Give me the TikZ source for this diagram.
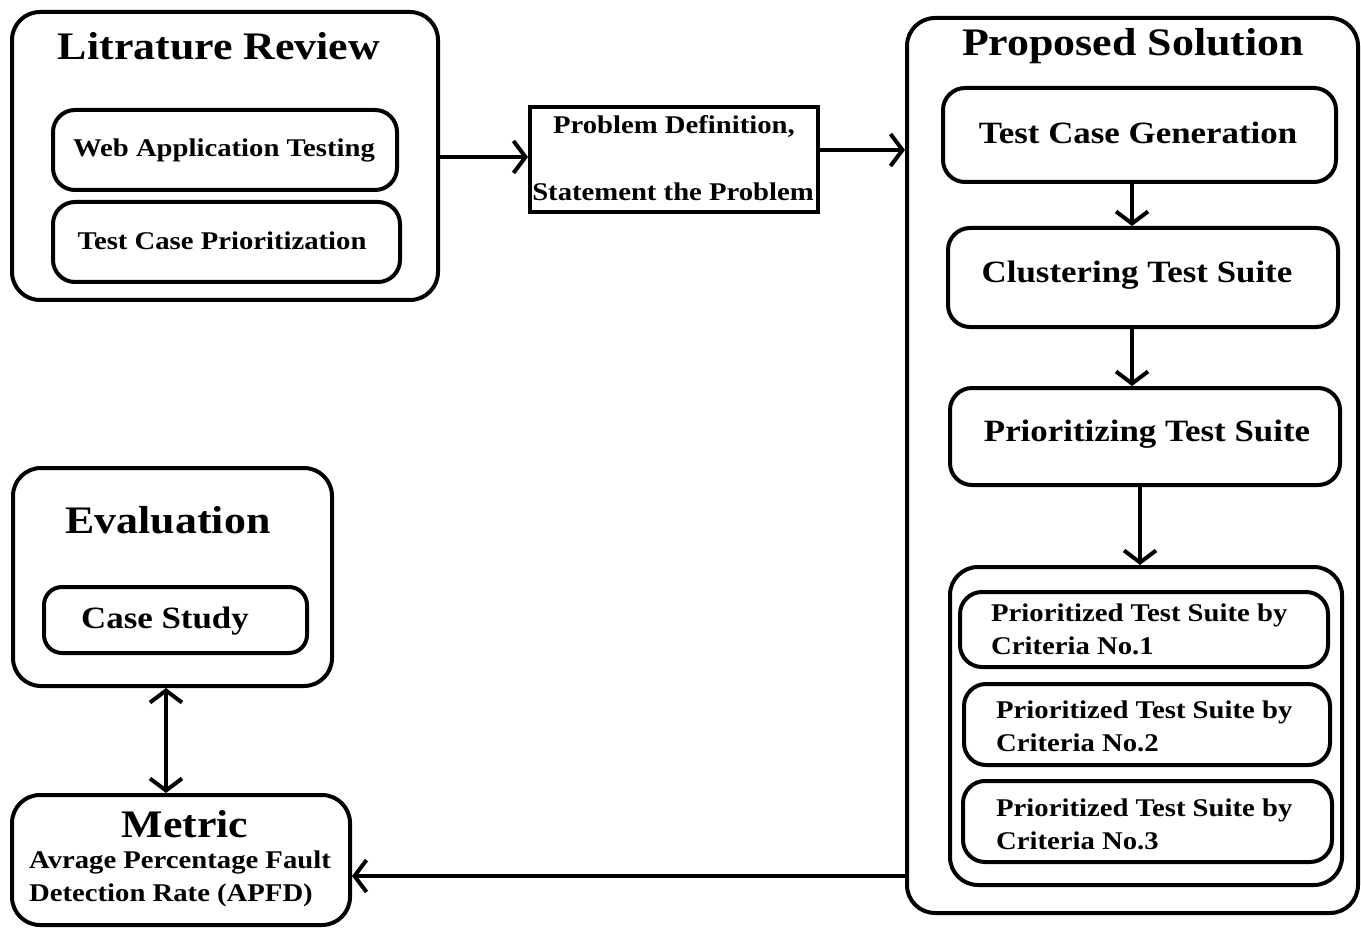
\documentclass[tikz,border=0pt]{standalone}
\usepackage{fontspec}
\setmainfont{Liberation Serif}[FakeStretch=1.125]
\usetikzlibrary{arrows.meta}
\tikzset{
  box/.style={draw, line width=4pt, rounded corners=#1, inner sep=0pt},
  box/.default=28pt,
  sbox/.style={draw, line width=4pt, rounded corners=22pt, inner sep=0pt},
  rbox/.style={draw, line width=4pt, inner sep=0pt},
  ttl/.style={font=\bfseries\fontsize{39}{42}\selectfont, inner sep=0pt},
  mid/.style={font=\bfseries\fontsize{31}{34}\selectfont, inner sep=0pt},
  sml/.style={font=\bfseries\fontsize{25.5}{33}\selectfont, inner sep=0pt},
  arr/.style={line width=4pt, -{Straight Barb[length=12pt,width=32pt,line width=4pt]}},
  darr/.style={line width=4pt, {Straight Barb[length=12pt,width=32pt,line width=4pt]}-{Straight Barb[length=12pt,width=32pt,line width=4pt]}}
}
\begin{document}
\begin{tikzpicture}[x=1pt,y=-1pt]
\useasboundingbox (0,0) rectangle (1361,928);
% Literature review
\node[box, minimum width=426pt, minimum height=288pt] (lit) at (225,156) {};
\node[ttl] (littl) at (219,46) {Litrature Review};
\node[sbox, minimum width=344pt, minimum height=80pt] (web) at (225,150) {};
\node[sml] (webt) at (224,150) {Web Application Testing};
\node[sbox, minimum width=347pt, minimum height=80pt] (tcp) at (226.5,242) {};
\node[sml] (tcpt) at (222,241) {Test Case Prioritization};
% Problem
\node[rbox, minimum width=288pt, minimum height=105pt] (prob) at (674,160) {};
\node[sml] (prob1) at (674,126) {Problem Definition,};
\node[sml] (prob2) at (673,192) {Statement the Problem};
% Proposed solution
\node[box, minimum width=451pt, minimum height=895pt] (prop) at (1132.5,465.5) {};
\node[ttl] (proptl) at (1133,46) {Proposed Solution};
\node[sbox, minimum width=393pt, minimum height=94pt] (tcg) at (1139.5,135) {};
\node[mid] (tcgt) at (1138,133) {Test Case Generation};
\node[sbox, minimum width=390pt, minimum height=99pt] (clu) at (1143,277.5) {};
\node[mid] (clut) at (1137,275) {Clustering Test Suite};
\node[sbox, minimum width=390pt, minimum height=97pt] (pri) at (1145,436.5) {};
\node[mid] (prit) at (1147,434) {Prioritizing Test Suite};
\node[box, minimum width=392pt, minimum height=318pt] (cont) at (1146,726) {};
\node[sbox, minimum width=368pt, minimum height=75pt] (c1) at (1144,629.5) {};
\node[sml, anchor=west, align=left] (c1t) at (991,629) {Prioritized Test Suite by\\Criteria No.1};
\node[sbox, minimum width=366pt, minimum height=81pt] (c2) at (1147,724.5) {};
\node[sml, anchor=west, align=left] (c2t) at (996,726) {Prioritized Test Suite by\\Criteria No.2};
\node[sbox, minimum width=369pt, minimum height=81pt] (c3) at (1147.5,821.5) {};
\node[sml, anchor=west, align=left] (c3t) at (996,824) {Prioritized Test Suite by\\Criteria No.3};
% Evaluation
\node[box, minimum width=319pt, minimum height=218pt] (eval) at (172.5,577) {};
\node[ttl] (evaltl) at (168,520) {Evaluation};
\node[sbox, rounded corners=18pt, minimum width=263pt, minimum height=66pt] (cs) at (175.5,620) {};
\node[mid] (cst) at (165,621) {Case Study};
% Metric
\node[box, minimum width=338pt, minimum height=130pt] (met) at (181,860) {};
\node[ttl] (mettl) at (185,824) {Metric};
\node[sml, anchor=west, align=left] (mett) at (29,879) {Avrage Percentage Fault\\Detection Rate (APFD)};
% connectors
\coordinate (ya) at (0,157);
\coordinate (yb) at (0,150);
\coordinate (xa) at (1132,0);
\coordinate (xb) at (1140,0);
\coordinate (xc) at (166,0);
\coordinate (yc) at (0,876);
\draw[arr] (lit.east |- ya) -- (prob.west |- ya);
\draw[arr] (prob.east |- yb) -- (prop.west |- yb);
\draw[arr] (tcg.south -| xa) -- (clu.north -| xa);
\draw[arr] (clu.south -| xa) -- (pri.north -| xa);
\draw[arr] (pri.south -| xb) -- (cont.north -| xb);
\draw[darr] (eval.south -| xc) -- (met.north -| xc);
\draw[arr] (prop.west |- yc) -- (met.east |- yc);
\end{tikzpicture}
\end{document}
